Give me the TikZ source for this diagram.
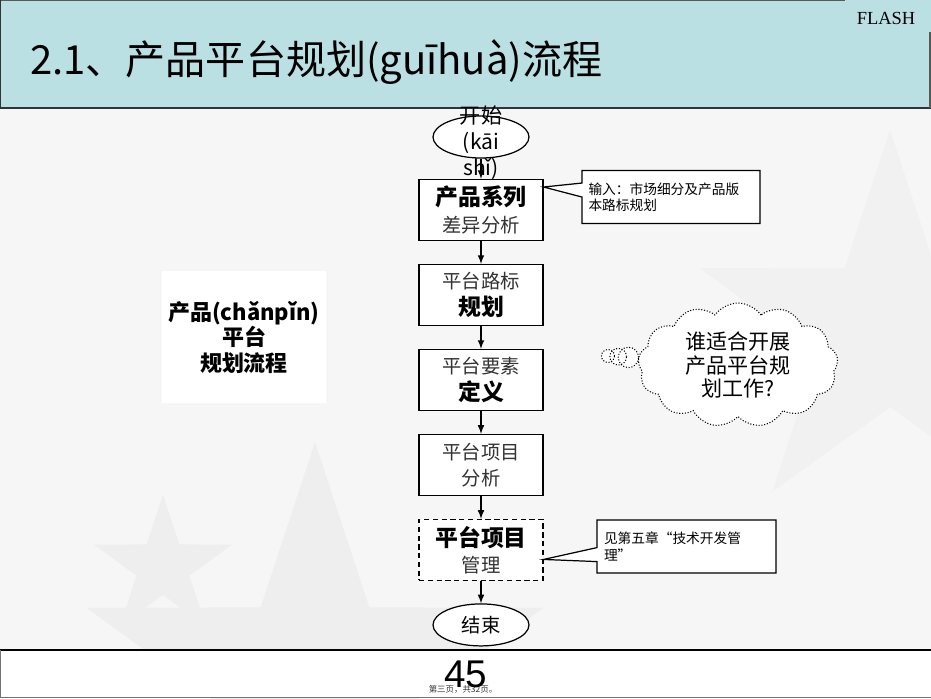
\documentclass[tikz,border=0pt]{standalone}
\usepackage{fontspec}
\setmainfont{Noto Sans CJK SC}
\newfontfamily\latinsans{Liberation Sans}
\newfontfamily\latinserif{Liberation Serif}
\usetikzlibrary{shapes.geometric,shapes.callouts,shapes.symbols}
\definecolor{titlebg}{HTML}{BAE0E4}
\definecolor{pagebg}{HTML}{F6F6F6}
\definecolor{stargray}{HTML}{EEEEEE}
\definecolor{subgray}{HTML}{333333}
\newcommand{\boxhead}[1]{{\bfseries\fontsize{13}{15}\selectfont #1}}
\newcommand{\boxsub}[1]{{\color{subgray}\fontsize{11}{15}\selectfont #1}}

\begin{document}
\begin{tikzpicture}[x=0.02cm,y=-0.02cm]
          \tikzstyle{box} = [rectangle, draw, fill=white, line width=0.7pt, minimum width=2.48cm, minimum height=1.22cm, align=center, inner sep=1pt, node distance=1.7cm, font=\fontsize{11}{15}\selectfont]
          \tikzstyle{term} = [ellipse, draw, fill=white, line width=0.7pt, minimum width=1.92cm, minimum height=0.84cm, inner sep=0pt, node distance=1.5cm]
          \tikzstyle{note} = [rectangle callout, draw, fill=white, line width=0.7pt, minimum width=3.56cm, minimum height=1.06cm, text width=3.3cm, align=left, callout pointer width=0.28cm, font=\fontsize{7.8}{9.3}\selectfont]
          \tikzstyle{flow} = [->, >=latex, line width=0.7pt]
          \tikzstyle{bgstar} = [star, star points=5, star point ratio=2.6, fill=stargray, inner sep=0pt]
        \useasboundingbox (0,0) rectangle (931,698);
        \clip (0,0) rectangle (931,698);
        % page and faint stars
        \fill[pagebg] (0,0) rectangle (931,698);
        \node[bgstar, minimum size=9.6cm] (st1) at (315,682) {};
        \node[bgstar, minimum size=2.9cm] (st2) at (163,567) {};
        \node[bgstar, minimum size=8cm, fill=stargray!60!pagebg] (st3) at (890,330) {};
        % title bar
        \fill[titlebg] (0,0) rectangle (931,108);
        \draw[black!65, line width=0.8pt] (0,0.5) -- (845,0.5);
        \draw[black!80, line width=0.8pt] (0.5,0) -- (0.5,108) -- (931,108);
        \draw[black!65, line width=0.8pt] (930,32) -- (930,108);
        \node[anchor=west, font=\fontsize{22.8}{26}\selectfont] (t) at (24,62) {2.1、产品平台规划(guīhuà)流程};
        \node[font=\latinserif\fontsize{10.5}{12}\selectfont] (fl) at (886,18) {FLASH};
        % bottom band
        \fill[white] (0,650) rectangle (931,698);
        \draw[black, line width=0.9pt] (0,650) -- (931,650);
        \draw[black!55, line width=0.8pt] (0.5,650) -- (0.5,697.5) -- (931,697.5);
        \node[font=\fontsize{4.8}{6}\selectfont, text=black!80] (pg) at (463,689) {第三页，共32页。};
        \node[font=\latinsans\fontsize{22}{24}\selectfont] (num) at (466,674) {45};
        % left title block
        \node[fill=white, minimum width=3.28cm, minimum height=2.64cm, align=center, font=\bfseries\fontsize{12.5}{14.5}\selectfont] (lt) at (244,337) {产品(chǎnpǐn)\\平台\\规划流程};
        % flow
        \node[term, label={[align=center, yshift=-3.4pt, font=\fontsize{12}{14.8}\selectfont]center:开始\\(kāi\\shǐ)}] (0) at (481,137) {};
        \node[box] (1) at (481,210) {\boxhead{产品系列}\\\boxsub{差异分析}};
        \node[box] (2) [below of=1] {\boxsub{平台路标}\\\boxhead{规划}};
        \node[box] (3) [below of=2] {\boxsub{平台要素}\\\boxhead{定义}};
        \node[box] (4) [below of=3] {\boxsub{平台项目}\\\boxsub{分析}};
        \node[box, densely dashed] (5) [below of=4] {\boxhead{平台项目}\\\boxsub{管理}};
        \node[term, font=\fontsize{11}{13}\selectfont] (6) [below of=5] {结束};
        \begin{scope}
          \draw[flow] (0) -- (1);
          \draw[flow] (1) -- (2);
          \draw[flow] (2) -- (3);
          \draw[flow] (3) -- (4);
          \draw[flow] (4) -- (5);
          \draw[flow] (5) -- (6);
        \end{scope}
        % notes
        \node[note, callout absolute pointer={([yshift=0.46cm]1.east)}] (7) at (671,197) {输入：市场细分及产品版\\本路标规划};
        \node[note, callout absolute pointer={([yshift=-0.19cm]5.east)}, minimum width=3.58cm] (8) at (686.5,546.5) {见第五章“技术开发管\\理”};
        \node[cloud callout, draw, fill=white, densely dotted, line width=0.6pt, cloud puffs=13, cloud puff arc=110, cloud ignores aspect, minimum width=4cm, minimum height=2.48cm, align=center, inner sep=0pt, callout absolute pointer={(608,356)}, callout pointer segments=3, callout pointer start size=0.26cm and 0.48cm, callout pointer end size=0.14cm and 0.26cm, font=\fontsize{12}{13.4}\selectfont] (9) at (738,365) {谁适合开展\\产品平台规\\划工作?};
      \end{tikzpicture}
\end{document}
